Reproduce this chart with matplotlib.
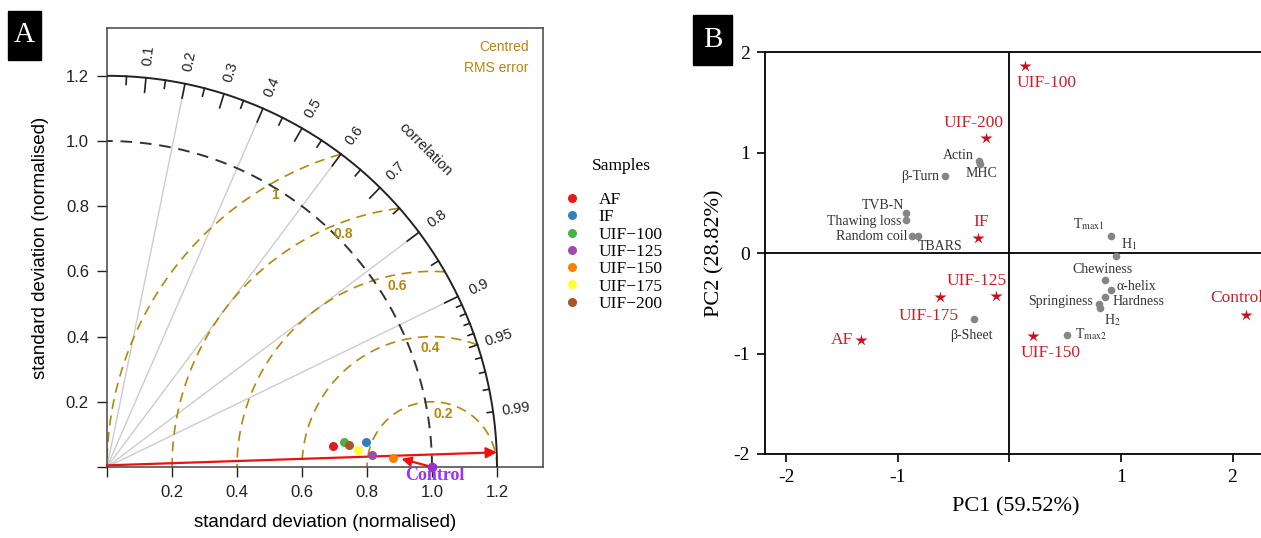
import numpy as np
import matplotlib
matplotlib.use("Agg")
import matplotlib.pyplot as plt
from matplotlib.lines import Line2D
from matplotlib.patches import Rectangle

plt.rcParams['axes.unicode_minus'] = False
plt.rcParams['mathtext.fontset'] = 'stix'

# ---------------- datos panel A (diagrama de Taylor) ----------------
muestras = ['AF', 'IF', 'UIF\u2212100', 'UIF\u2212125', 'UIF\u2212150', 'UIF\u2212175', 'UIF\u2212200']
colores = ['#e41a1c', '#377eb8', '#4daf4a', '#984ea3', '#ff7f00', '#ffff33', '#a65628']
sd_norm = [0.699, 0.802, 0.732, 0.815, 0.881, 0.774, 0.747]      # desviación estándar normalizada
correl = [0.9958, 0.9955, 0.9947, 0.9990, 0.9995, 0.9976, 0.9959]  # coeficiente de correlación
sd_control = 1.0
r_control = 1.0

ref_inicio = (0.0, 0.005)     # flecha roja larga
ref_fin = (1.2, 0.045)
flecha_control = (0.906, 0.025)

corr_ticks = [0.1, 0.2, 0.3, 0.4, 0.5, 0.6, 0.7, 0.8, 0.9, 0.95, 0.99]
corr_lineas = [0.2, 0.4, 0.6, 0.8, 0.9]
rms_niveles = [0.2, 0.4, 0.6, 0.8, 1.0]
rms_etiquetas = ['0.2', '0.4', '0.6', '0.8', '1']

# ---------------- datos panel B (PCA) ----------------
pca_muestras = ['UIF-100', 'UIF-200', 'IF', 'UIF-125', 'UIF-175', 'UIF-150', 'AF', 'Control']
pc1_muestras = [0.138, -0.205, -0.28, -0.122, -0.624, 0.212, -1.334, 2.12]
pc2_muestras = [1.866, 1.146, 0.151, -0.43, -0.436, -0.828, -0.868, -0.612]

pca_vars = ['Actin', 'MHC', '\u03b2-Turn', 'TVB-N', 'Thawing loss', 'Random coil', 'TBARS',
            r'T$_{\mathrm{max1}}$', r'H$_{\mathrm{1}}$', 'Chewiness', '\u03b1-helix', 'Hardness',
            'Springiness', r'H$_{\mathrm{2}}$', r'T$_{\mathrm{max2}}$', '\u03b2-Sheet']
pc1_vars = [-0.27, -0.26, -0.579, -0.922, -0.922, -0.877, -0.818,
            0.915, 0.96, 0.855, 0.915, 0.861, 0.804, 0.816, 0.517, -0.319]
pc2_vars = [0.92, 0.89, 0.764, 0.40, 0.333, 0.167, 0.174,
            0.167, -0.032, -0.27, -0.363, -0.44, -0.506, -0.545, -0.811, -0.655]

# desplazamientos de las etiquetas (pixeles) y alineación
off_muestras = [(22, -17, 'center'), (-13, 15, 'center'), (3, 16, 'center'), (-19, 15, 'center'),
                (-11, -19, 'center'), (18, -17, 'center'), (-7, 0, 'right'), (-9, 17, 'center')]
off_vars = [(-6, 5, 'right'), (1, -10, 'center'), (-6, 0, 'right'), (-2, 7, 'right'),
            (-5, -2, 'right'), (-4, 0, 'right'), (0, -11, 'left'),
            (-7, 12, 'right'), (5, 12, 'left'), (-2, 11, 'center'), (5, 3, 'left'),
            (7, -4, 'left'), (-6, 2, 'right'), (4, -12, 'left'), (8, 0, 'left'), (-2, -17, 'center')]

W, H = 1261, 538
fig = plt.figure(figsize=(W / 100, H / 100), dpi=100)

oro = '#b8860b'
sans = 'Liberation Sans'
serif = 'Liberation Serif'

# ====================== Panel A ======================
ax1 = fig.add_axes([107 / W, 1 - 467 / H, (543 - 107) / W, (467 - 28) / H])
ax1.set_xlim(0, 436 / 325)
ax1.set_ylim(0, 439 / 326)
sd_max = 1.2
th = np.linspace(0, np.pi / 2, 300)

# líneas de correlación
for c in corr_lineas:
    a = np.arccos(c)
    ax1.plot([0, sd_max * np.cos(a)], [0, sd_max * np.sin(a)], color='#cccccc', lw=1, zorder=1)

# arcos de error RMS centrado
phi = np.linspace(0, np.pi, 600)
for rr in rms_niveles:
    xs = 1 + rr * np.cos(phi)
    ys = rr * np.sin(phi)
    m = (xs ** 2 + ys ** 2 <= sd_max ** 2 + 1e-9) & (xs >= 0)
    ax1.plot(xs[m], ys[m], color=oro, lw=1.2, ls=(0, (6, 4)), zorder=2)

# etiquetas de los arcos RMS
ang_rms = [78, 91, 101, 111, 120]
for rr, lab, ang in zip(rms_niveles, rms_etiquetas, ang_rms):
    ax1.text(1 + (rr - 0.035) * np.cos(np.radians(ang)), (rr - 0.035) * np.sin(np.radians(ang)), lab,
             color=oro, fontsize=10, fontweight='bold', family=sans, ha='center', va='center', zorder=3)

# arco de referencia sd = 1
ax1.plot(np.cos(th), np.sin(th), color='#333333', lw=1.4, ls=(0, (6, 4)), zorder=2)
# arco exterior
ax1.plot(sd_max * np.cos(th), sd_max * np.sin(th), color='#222222', lw=1.4, zorder=3)

# marcas del arco
big = np.arange(0.1, 0.91, 0.1)
med = np.append(np.arange(0.05, 0.9, 0.1), 0.95)
sml = np.array([0.91, 0.92, 0.93, 0.94, 0.96, 0.97, 0.98, 0.99])
for grupo, lon in [(big, 0.045), (med, 0.025), (sml, 0.018)]:
    for c in grupo:
        a = np.arccos(c)
        ax1.plot([sd_max * np.cos(a), (sd_max - lon) * np.cos(a)],
                 [sd_max * np.sin(a), (sd_max - lon) * np.sin(a)], color='#222222', lw=1.2, zorder=3)

for c in corr_ticks:
    a = np.arccos(c)
    ax1.text(1.27 * np.cos(a), 1.27 * np.sin(a), f'{c:g}', rotation=np.degrees(a),
             rotation_mode='anchor', ha='center', va='center', fontsize=10.5, family=sans, color='#222222')
ax1.text(1.383 * np.cos(np.radians(44.8)), 1.383 * np.sin(np.radians(44.8)), 'correlation',
         rotation=-45, rotation_mode='anchor', ha='center', va='center', fontsize=10.5, family=sans,
         color='#222222')

ax1.text(1.298, 1.287, 'Centred', ha='right', va='center', color=oro, fontsize=10, family=sans)
ax1.text(1.298, 1.223, 'RMS error', ha='right', va='center', color=oro, fontsize=10, family=sans)

# flechas rojas
ax1.annotate('', xy=ref_fin, xytext=ref_inicio,
             arrowprops=dict(arrowstyle='-|>', color='#ee1111', lw=1.6, mutation_scale=16,
                             shrinkA=0, shrinkB=0), zorder=4)
ax1.annotate('', xy=flecha_control, xytext=(sd_control * r_control, 0),
             arrowprops=dict(arrowstyle='-|>', color='#ee1111', lw=1.6, mutation_scale=14,
                             shrinkA=0, shrinkB=0), zorder=4)

# puntos
for nom, col, s, r in zip(muestras, colores, sd_norm, correl):
    ax1.plot(s * r, s * np.sqrt(1 - r ** 2), 'o', ms=6.5, color=col, mec='none', zorder=5, label=nom)
ax1.plot(sd_control * r_control, sd_control * np.sqrt(1 - r_control ** 2), 'o', ms=7, color='#9932cc',
         mec='none', zorder=6, clip_on=False)
ax1.text(1.01, -0.027, 'Control', color='#9b30ff', fontsize=13, fontweight='bold', family=serif,
         ha='center', va='center', zorder=6)

ticks = [0, 0.2, 0.4, 0.6, 0.8, 1.0, 1.2]
ax1.set_xticks(ticks)
ax1.set_xticklabels([''] + [f'{t:.1f}' for t in ticks[1:]])
ax1.set_yticks(ticks)
ax1.set_yticklabels([''] + [f'{t:.1f}' for t in ticks[1:]])
ax1.tick_params(direction='out', length=7, width=1, labelsize=12, pad=6, colors='#222222')
for lab in ax1.get_xticklabels() + ax1.get_yticklabels():
    lab.set_family(sans)
for sp in ax1.spines.values():
    sp.set_color('#444444')
    sp.set_linewidth(1.1)
ax1.set_xlabel('standard deviation (normalised)', fontsize=13.5, family=sans, labelpad=10)
ax1.set_ylabel('standard deviation (normalised)', fontsize=13.5, family=sans, labelpad=12)

# leyenda
handles = [Line2D([], [], marker='o', ls='none', ms=6.5, color=c, mec='none') for c in colores]
ax1.legend(handles, muestras, loc='upper left', bbox_to_anchor=(563 / W, 1 - 192 / H),
           bbox_transform=fig.transFigure, frameon=False,
           prop={'family': serif, 'size': 12.5}, borderpad=0, borderaxespad=0, handlelength=1.0,
           handletextpad=1.05, labelspacing=0.065)
fig.text(621 / W, 1 - 166 / H, 'Samples', family=serif, fontsize=12.5, ha='center', va='center')

# ====================== Panel B ======================
ax2 = fig.add_axes([765 / W, 1 - 454 / H, (1266 - 765) / W, (454 - 52.3) / H])
ax2.set_xlim(-2.19, 2.30)
ax2.set_ylim(-2, 2)
ax2.axhline(0, color='black', lw=1.3, zorder=1)
ax2.axvline(0, color='black', lw=1.3, zorder=1)

rojo = '#c8101c'
ax2.plot(pc1_muestras, pc2_muestras, '*', ms=9, color=rojo, mec='none', ls='none', zorder=4)
for nom, x, y, (dx, dy, ha) in zip(pca_muestras, pc1_muestras, pc2_muestras, off_muestras):
    ax2.annotate(nom, (x, y), xytext=(dx, dy), textcoords='offset pixels', ha=ha, va='center',
                 color='#c8202a', fontsize=12.5, family=serif, annotation_clip=False)

ax2.plot(pc1_vars, pc2_vars, 'o', ms=5.5, color='#858585', mec='none', ls='none', zorder=4)
for nom, x, y, (dx, dy, ha) in zip(pca_vars, pc1_vars, pc2_vars, off_vars):
    ax2.annotate(nom, (x, y), xytext=(dx, dy), textcoords='offset pixels', ha=ha, va='center',
                 color='#333333', fontsize=10, family=serif)

ax2.set_xticks([-2, -1, 0, 1, 2])
ax2.set_xticklabels(['-2', '-1', '', '1', '2'])
ax2.set_yticks([-2, -1, 0, 1, 2])
ax2.tick_params(direction='out', length=6, width=1.2, labelsize=14, pad=5)
for lab in ax2.get_xticklabels() + ax2.get_yticklabels():
    lab.set_family(serif)
for sp in ax2.spines.values():
    sp.set_linewidth(1.3)
ax2.spines['right'].set_visible(False)
ax2.set_xlabel('PC1 (59.52%)', fontsize=16, family=serif, labelpad=8)
ax2.set_ylabel('PC2 (28.82%)', fontsize=16, family=serif, labelpad=6)

# etiquetas de panel
for (x0, y0, x1, y1), letra in [((8, 11, 41, 60), 'A'), ((693, 15, 732, 65), 'B')]:
    fig.add_artist(Rectangle((x0 / W, 1 - y1 / H), (x1 - x0) / W, (y1 - y0) / H,
                             transform=fig.transFigure, color='black'))
    fig.text((x0 + x1) / 2 / W, 1 - (y0 + y1) / 2 / H, letra, color='white', fontsize=21,
             family=serif, ha='center', va='center')

fig.savefig('out.png', dpi=100, facecolor='white')
